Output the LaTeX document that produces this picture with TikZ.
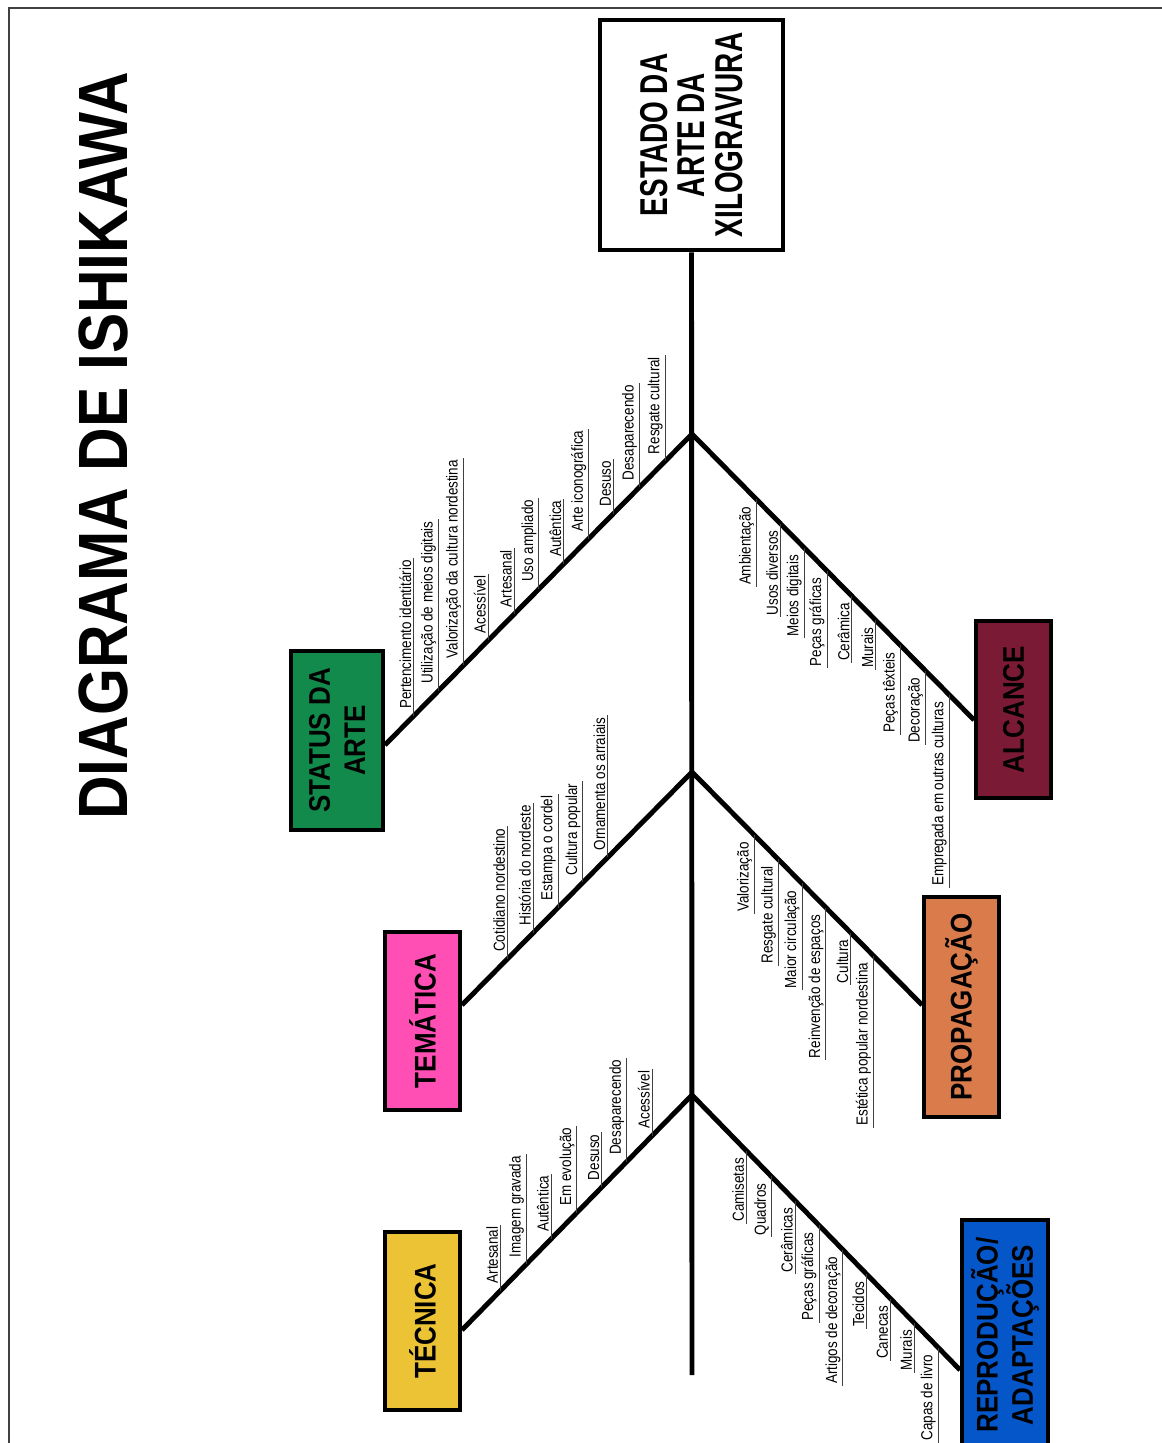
\documentclass[tikz,border=0pt]{standalone}
\usepackage{fontspec}
\setmainfont{Liberation Sans}
\newfontfamily\labfont[FakeStretch=0.84]{Liberation Sans}
\newfontfamily\titlefont[FakeStretch=0.865]{Liberation Sans}
\newfontfamily\headfont[FakeStretch=0.72]{Liberation Sans}
\newfontfamily\boxfont[FakeStretch=0.87]{Liberation Sans}
\usetikzlibrary{calc}
\definecolor{cgreen}{RGB}{18,138,76}
\definecolor{cpink}{RGB}{255,79,181}
\definecolor{cyellow}{RGB}{237,195,54}
\definecolor{cdred}{RGB}{122,26,52}
\definecolor{corange}{RGB}{218,123,76}
\definecolor{cblue}{RGB}{5,86,200}
\tikzset{
  lblU/.style={rotate=90, anchor=south west, inner xsep=1pt, inner ysep=1.2pt,
    font=\labfont\fontsize{9.1}{10}\selectfont},
  lblD/.style={rotate=90, anchor=south east, inner xsep=1pt, inner ysep=1.2pt,
    font=\labfont\fontsize{9.1}{10}\selectfont},
  uline/.style={line width=0.6pt, black!75},
  bone/.style={line width=2.8pt},
  catbox/.style={rotate=90, draw=black, line width=2.2pt, align=center, inner sep=0pt,
    font=\boxfont\bfseries\fontsize{17}{20}\selectfont},
  headbox/.style={rotate=90, draw=black, fill=white, line width=2.8pt, align=center, inner sep=0pt,
    font=\headfont\bfseries\fontsize{22.1}{21.3}\selectfont},
  frameline/.style={line width=1.2pt, black!75}
}
\begin{document}
\begin{tikzpicture}[x=0.02cm,y=-0.02cm]
\useasboundingbox (0,0) rectangle (1161,1443);
% frame
\draw[frameline] (9,1460) -- (9,8) -- (1175,8);
% title
\node[rotate=90, inner sep=0pt, font=\titlefont\bfseries\fontsize{39.7}{44}\selectfont] (title) at (103,446) {DIAGRAMA DE ISHIKAWA};
% head
\node[headbox, minimum width=4.6cm, minimum height=3.66cm] (head) at (691.5,135) {ESTADO DA\\ARTE DA\\XILOGRAVURA};
% category boxes
\node[catbox, fill=cgreen, minimum width=3.58cm, minimum height=1.84cm] (status) at (337,740.5) {STATUS DA\\ARTE};
\node[catbox, fill=cpink, minimum width=3.56cm, minimum height=1.5cm] (tematica) at (422.5,1021) {TEMÁTICA};
\node[catbox, fill=cyellow, minimum width=3.56cm, minimum height=1.5cm] (tecnica) at (422.5,1321) {TÉCNICA};
\node[catbox, fill=cdred, minimum width=3.54cm, minimum height=1.5cm] (alcance) at (1013.5,709.5) {ALCANCE};
\node[catbox, fill=corange, minimum width=4.4cm, minimum height=1.5cm] (propag) at (961.5,1007) {PROPAGAÇÃO};
\node[catbox, fill=cblue, minimum width=4.6cm, minimum height=1.72cm] (reprod) at (1005,1335) {REPRODUÇÃO/\\ADAPTAÇÕES};
% spine
\coordinate (spineEnd) at (692,1375);
\coordinate (jA) at (692,434);
\coordinate (jB) at (692,772);
\coordinate (jC) at (692,1095);
\draw[bone] (head.west) -- (spineEnd);
% bone ends on box edges
\coordinate (eS) at (status.south |- 0,745);
\coordinate (eAl) at (alcance.north |- 0,720);
\coordinate (eT) at (tematica.south |- 0,1005);
\coordinate (eP) at (propag.north |- 0,1005);
\coordinate (eTe) at (tecnica.south |- 0,1330);
\coordinate (eR) at (reprod.north |- 0,1370);
\draw[bone] (jA) -- (eS);
\draw[bone] (jA) -- (eAl);
\draw[bone] (jB) -- (eT);
\draw[bone] (jB) -- (eP);
\draw[bone] (jC) -- (eTe);
\draw[bone] (jC) -- (eR);
% Status da arte labels
\foreach \x/\t [count=\i] in {412/Pertencimento identitário, 437/Utilização de meios digitais, 462/Valorização da cultura nordestina, 487/Acessível, 513/Artesanal, 538/Uso ampliado, 563/Autêntica, 588/Arte iconográfica, 613/Desuso, 639/Desaparecendo, 665/Resgate cultural}{
  \coordinate (sp\i) at ($(jA)!{(\x-692)/(383-692)}!(eS)$);
  \node[lblU] (sl\i) at ($(sp\i)+(0,-5)$) {\t};
  \draw[uline] (sp\i) -- (sl\i.south east);
}
% Tematica labels
\foreach \x/\t [count=\i] in {506/Cotidiano nordestino, 532/História do nordeste, 557/Estampa o cordel, 582/Cultura popular, 607/Ornamenta os arraiais}{
  \coordinate (tp\i) at ($(jB)!{(\x-692)/(460-692)}!(eT)$);
  \node[lblU] (tl\i) at ($(tp\i)+(0,-5)$) {\t};
  \draw[uline] (tp\i) -- (tl\i.south east);
}
% Tecnica labels
\foreach \x/\t [count=\i] in {499/Artesanal, 525/Imagem gravada, 550/Autêntica, 576/Em evolução, 601/Desuso, 626/Desaparecendo, 652/Acessível}{
  \coordinate (cp\i) at ($(jC)!{(\x-692)/(460-692)}!(eTe)$);
  \node[lblU] (cl\i) at ($(cp\i)+(0,-5)$) {\t};
  \draw[uline] (cp\i) -- (cl\i.south east);
}
% Alcance labels
\foreach \x/\t [count=\i] in {757/Ambientação, 781/Usos diversos, 805/Meios digitais, 828/Peças gráficas, 853/Cerâmica, 877/Murais, 902/Peças têxteis, 927/Decoração, 951/Empregada em outras culturas}{
  \coordinate (ap\i) at ($(jA)!{(\x-692)/(976-692)}!(eAl)$);
  \node[lblD] (al\i) at ($(ap\i)+(0,5)$) {\t};
  \draw[uline] (ap\i) -- (al\i.south west);
}
% Propagacao labels
\foreach \x/\t [count=\i] in {755/Valorização, 779/Resgate cultural, 803/Maior circulação, 827/Reinvenção de espaços, 852/Cultura, 875/Estética popular nordestina}{
  \coordinate (pp\i) at ($(jB)!{(\x-692)/(924-692)}!(eP)$);
  \node[lblD] (pl\i) at ($(pp\i)+(0,5)$) {\t};
  \draw[uline] (pp\i) -- (pl\i.south west);
}
% Reproducao labels
\foreach \x/\t [count=\i] in {747/Camisetas, 772/Quadros, 796/Cerâmicas, 820/Peças gráficas, 844/Artigos de decoração, 868/Tecidos, 892/Canecas, 916/Murais, 940/Capas de livro}{
  \coordinate (rp\i) at ($(jC)!{(\x-692)/(962-692)}!(eR)$);
  \node[lblD] (rl\i) at ($(rp\i)+(0,5)$) {\t};
  \draw[uline] (rp\i) -- (rl\i.south west);
}
\end{tikzpicture}
\end{document}
